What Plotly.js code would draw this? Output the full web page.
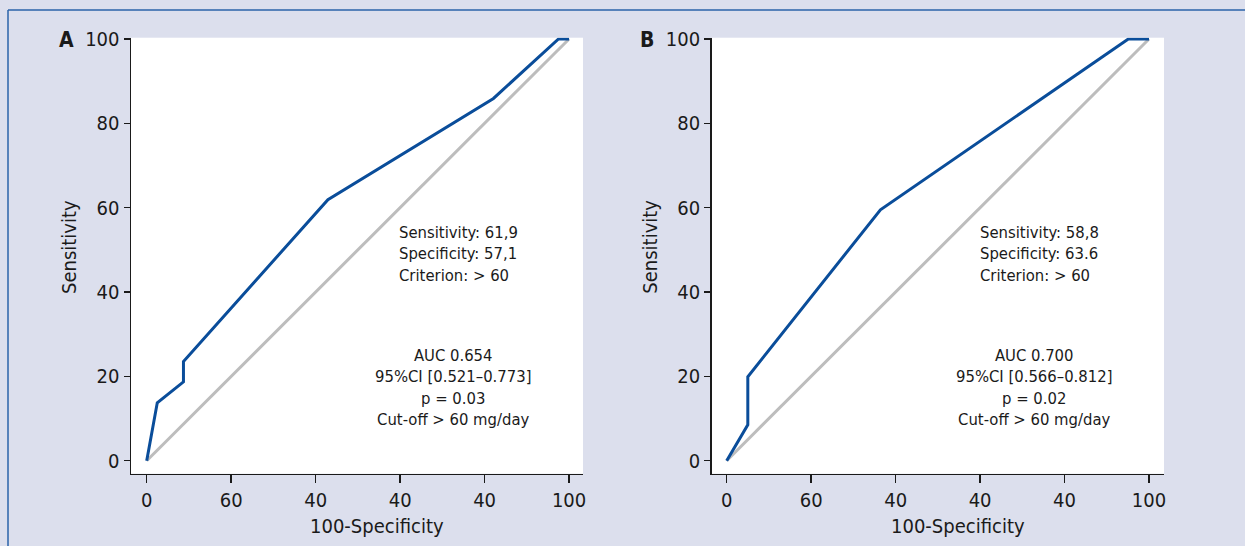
<!DOCTYPE html>
<html>
<head>
<meta charset="utf-8">
<script src="https://cdn.plot.ly/plotly-3.0.1.min.js"></script>
<style>html,body{margin:0;padding:0;background:#dcdfed;}#chart{width:1245px;height:546px;}</style>
</head>
<body>
<div id="chart"></div>
<script>
// ROC panel A
const fprA = [0, 2.5, 8.7, 8.7, 42.9, 82.1, 97.5, 100];
const sensA = [0, 13.75, 18.7, 23.5, 61.9, 85.9, 100, 100];
// ROC panel B
const fprB = [0, 5.0, 5.0, 36.4, 95.1, 100];
const sensB = [0, 8.5, 19.9, 59.5, 100, 100];
// reference diagonal
const diagX = [0, 100];
const diagY = [0, 100];
// ticks
const tickVals = [0, 20, 40, 60, 80, 100];
const xTickText = ["0", "60", "40", "40", "40", "100"];
const yTickText = ["0", "20", "40", "60", "80", "100"];
// texts
const panelLabels = ["A", "B"];
const cutTextA = ["Sensitivity: 61,9", "Specificity: 57,1", "Criterion: &gt; 60"];
const cutTextB = ["Sensitivity: 58,8", "Specificity: 63.6", "Criterion: &gt; 60"];
const aucTextA = ["AUC 0.654", "95%CI [0.521–0.773]", "p = 0.03", "Cut-off &gt; 60 mg/day"];
const aucTextB = ["AUC 0.700", "95%CI [0.566–0.812]", "p = 0.02", "Cut-off &gt; 60 mg/day"];

const W = 1245, H = 546;
const px = x => x / W;
const py = y => 1 - y / H;
const FONT = "'Liberation Sans Narrow', 'Arial Narrow', 'DejaVu Sans Condensed', sans-serif";
const BLUE = "#0a4d9a";
const GRAY = "#bdbdbd";
const INK = "#1a1a1a";

const traces = [
  {x: diagX, y: diagY, xaxis: "x", yaxis: "y", mode: "lines", line: {color: GRAY, width: 3}, hoverinfo: "skip"},
  {x: fprA, y: sensA, xaxis: "x", yaxis: "y", mode: "lines", line: {color: BLUE, width: 3}, hoverinfo: "skip"},
  {x: diagX, y: diagY, xaxis: "x2", yaxis: "y2", mode: "lines", line: {color: GRAY, width: 3}, hoverinfo: "skip"},
  {x: fprB, y: sensB, xaxis: "x2", yaxis: "y2", mode: "lines", line: {color: BLUE, width: 3}, hoverinfo: "skip"}
];

function xAx(domain, range, anchor) {
  return {
    domain: domain, range: range, anchor: anchor,
    tickmode: "array", tickvals: tickVals, ticktext: xTickText,
    showgrid: false, zeroline: false, showline: true, linecolor: INK, linewidth: 1.5,
    ticks: "outside", ticklen: 8, tickwidth: 1.5, tickcolor: INK,
    tickfont: {family: FONT, size: 20, color: INK}, fixedrange: true
  };
}
function yAx(domain, range, anchor) {
  return {
    domain: domain, range: range, anchor: anchor,
    tickmode: "array", tickvals: tickVals, ticktext: yTickText,
    showgrid: false, zeroline: false, showline: true, linecolor: INK, linewidth: 1.5,
    ticks: "outside", ticklen: 6, tickwidth: 1.5, tickcolor: INK,
    tickfont: {family: FONT, size: 20, color: INK}, fixedrange: true
  };
}

const yDomain = [py(473.7), py(37.7)];
const yRange = [-3.08, 100.3];

const annotations = [];
function addText(txt, x, y, opts) {
  annotations.push(Object.assign({
    text: txt, xref: "paper", yref: "paper", x: px(x), y: py(y),
    showarrow: false, font: {family: FONT, size: 16.5, color: INK}
  }, opts || {}));
}
const offs = [0, 580.7];
[[cutTextA, aucTextA], [cutTextB, aucTextB]].forEach((pair, i) => {
  const o = offs[i];
  addText(pair[0].join("<br>"), 397 + o, 254, {xanchor: "left", yanchor: "middle", align: "left"});
  addText(pair[1].join("<br>"), 453 + o, 387.5, {xanchor: "center", yanchor: "middle", align: "center"});
  addText("<b>" + panelLabels[i] + "</b>", 66 + o, 40, {xanchor: "center", yanchor: "middle", font: {family: FONT, size: 21, color: INK}});
  addText("100-Specificity", 377 + o, 526, {xanchor: "center", yanchor: "middle", font: {family: FONT, size: 20, color: INK}});
  addText("Sensitivity", 69 + o, 247, {xanchor: "center", yanchor: "middle", textangle: -90, font: {family: FONT, size: 20, color: INK}});
});

const layout = {
  width: W, height: H,
  margin: {l: 0, r: 0, t: 0, b: 0},
  paper_bgcolor: "#dcdfed",
  plot_bgcolor: "#ffffff",
  showlegend: false,
  xaxis: xAx([px(131), px(583)], [-3.72, 103.3], "y"),
  yaxis: yAx(yDomain, yRange, "x"),
  xaxis2: xAx([px(711.7), px(1164)], [-3.55, 103.55], "y2"),
  yaxis2: yAx(yDomain, yRange, "x2"),
  annotations: annotations,
  shapes: [
    {type: "line", xref: "paper", yref: "paper", x0: px(8), x1: 1, y0: py(10), y1: py(10), line: {color: "#2b63a8", width: 1.5}},
    {type: "line", xref: "paper", yref: "paper", x0: px(8), x1: px(8), y0: py(10), y1: 0, line: {color: "#2b63a8", width: 1.5}}
  ]
};

Plotly.newPlot("chart", traces, layout, {displayModeBar: false, staticPlot: true});
</script>
</body>
</html>
